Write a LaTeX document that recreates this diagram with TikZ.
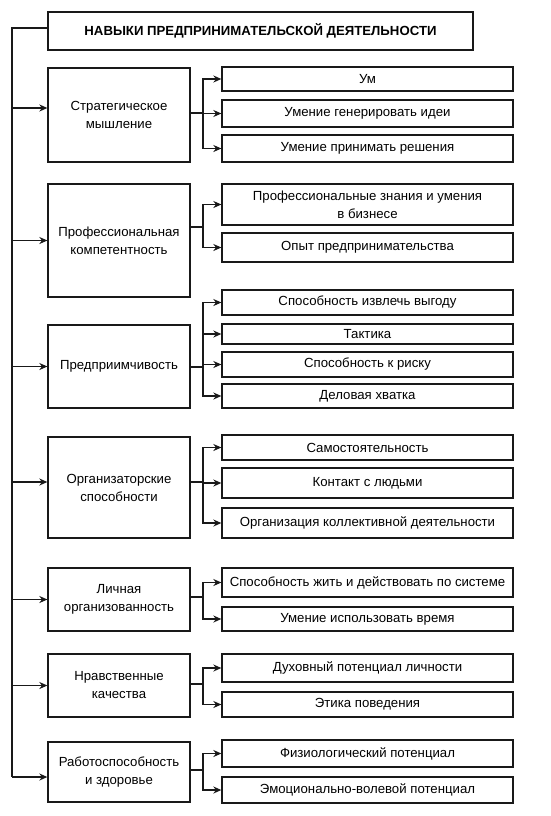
\documentclass[tikz,border=0pt]{standalone}
\usepackage{fontspec}
\setmainfont{Liberation Sans}
\usetikzlibrary{arrows.meta}
\begin{document}
\begin{tikzpicture}[x=1pt,y=-1pt,
  box/.style={draw=black!90,line width=1.3pt,inner sep=1pt,align=center,font=\fontsize{13.2}{18}\selectfont,text=black},
  lbox/.style={box,minimum width=142pt},
  rbox/.style={box,minimum width=291pt},
  ln/.style={line width=1.3pt,draw=black!90},
  arr/.style={ln,-{Stealth[length=8pt,width=7pt]}}]
\path[fill=white] (0,0) rectangle (550,816);
\node[box,minimum width=425pt,minimum height=38pt,font=\bfseries\fontsize{13.2}{15}\selectfont] (title) at (260.5,31) {НАВЫКИ ПРЕДПРИНИМАТЕЛЬСКОЙ ДЕЯТЕЛЬНОСТИ};
% left boxes
\node[lbox,minimum height=94pt] (L1) at (119,115) {Стратегическое\\мышление};
\node[lbox,minimum height=113pt] (L2) at (119,240.5) {Профессиональная\\компетентность};
\node[lbox,minimum height=83pt] (L3) at (119,366.5) {Предприимчивость};
\node[lbox,minimum height=101pt] (L4) at (119,487.5) {Организаторские\\способности};
\node[lbox,minimum height=63pt] (L5) at (119,599.5) {Личная\\организованность};
\node[lbox,minimum height=63pt] (L6) at (119,685.5) {Нравственные\\качества};
\node[lbox,minimum height=60pt] (L7) at (119,772) {Работоспособность\\и здоровье};
% right boxes
\node[rbox,minimum height=24pt] (R11) at (367.5,79) {Ум};
\node[rbox,minimum height=27pt] (R12) at (367.5,113.5) {Умение генерировать идеи};
\node[rbox,minimum height=27pt] (R13) at (367.5,148.5) {Умение принимать решения};
\node[rbox,minimum height=41pt] (R21) at (367.5,204.5) {Профессиональные знания и умения\\в бизнесе};
\node[rbox,minimum height=29pt] (R22) at (367.5,247.5) {Опыт предпринимательства};
\node[rbox,minimum height=25pt] (R31) at (367.5,302.5) {Способность извлечь выгоду};
\node[rbox,minimum height=20pt] (R32) at (367.5,334) {Тактика};
\node[rbox,minimum height=25pt] (R33) at (367.5,364.5) {Способность к риску};
\node[rbox,minimum height=24pt] (R34) at (367.5,396) {Деловая хватка};
\node[rbox,minimum height=25pt] (R41) at (367.5,447.5) {Самостоятельность};
\node[rbox,minimum height=30pt] (R42) at (367.5,483) {Контакт с людьми};
\node[rbox,minimum height=30pt] (R43) at (367.5,523) {Организация коллективной деятельности};
\node[rbox,minimum height=29pt] (R51) at (367.5,582.5) {Способность жить и действовать по системе};
\node[rbox,minimum height=24pt] (R52) at (367.5,619) {Умение использовать время};
\node[rbox,minimum height=28pt] (R61) at (367.5,668) {Духовный потенциал личности};
\node[rbox,minimum height=25pt] (R62) at (367.5,704.5) {Этика поведения};
\node[rbox,minimum height=27pt] (R71) at (367.5,753.5) {Физиологический потенциал};
\node[rbox,minimum height=26pt] (R72) at (367.5,790) {Эмоционально-волевой потенциал};
% trunk
\coordinate (ttop) at (12,28);
\coordinate (tbot) at (12,777);
\draw[ln] (title.west |- ttop) -- (ttop) -- (tbot);
\draw[arr] ([yshift=7pt]L1.west -| ttop) -- ([yshift=7pt]L1.west);
\draw[arr] (L2.west -| ttop) -- (L2.west);
\draw[arr] (L3.west -| ttop) -- (L3.west);
\draw[arr] ([yshift=5.5pt]L4.west -| ttop) -- ([yshift=5.5pt]L4.west);
\draw[arr] (L5.west -| ttop) -- (L5.west);
\draw[arr] (L6.west -| ttop) -- (L6.west);
\draw[arr] (tbot) -- (tbot -| L7.west);
% branches
\coordinate (b1) at (203,113);
\coordinate (b2) at (203,227);
\coordinate (b3) at (203,367);
\coordinate (b4) at (203,482);
\coordinate (b5) at (203,597);
\coordinate (b6) at (203,684);
\coordinate (b7) at (203,770);
\foreach \g/\kids in {1/{1,2,3},2/{1,2},3/{1,2,3,4},4/{1,2,3},5/{1,2},6/{1,2},7/{1,2}}{
  \draw[ln] (b\g -| L\g.east) -- (b\g);
  \foreach \k in \kids {\draw[arr] (b\g) |- (R\g\k.west);}
}
\end{tikzpicture}
\end{document}
